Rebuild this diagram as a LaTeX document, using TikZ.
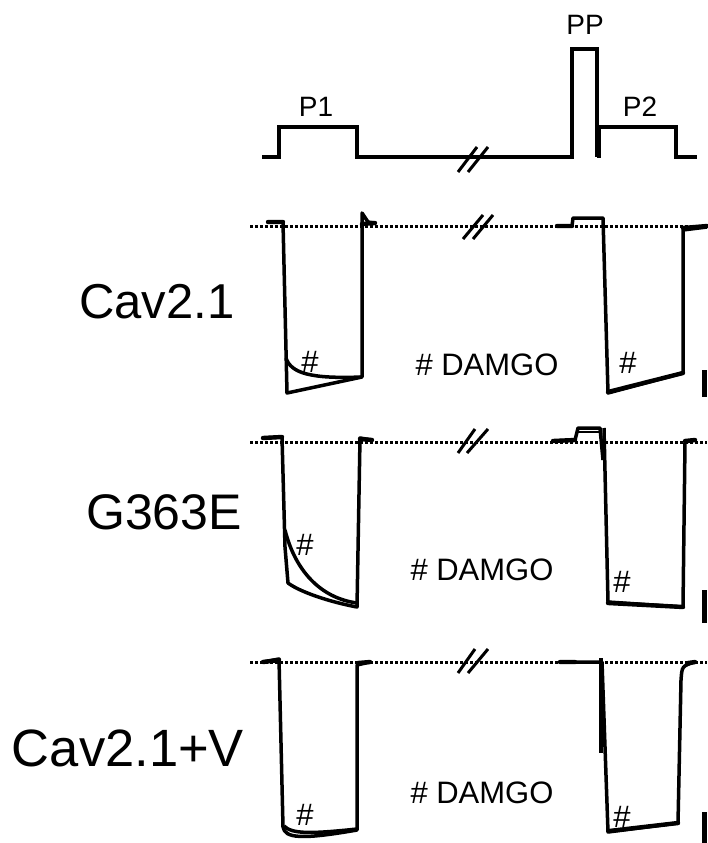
\documentclass[tikz,border=0pt]{standalone}
\usepackage{fontspec}
\setmainfont{Liberation Sans}
\usepackage{tikz}

\begin{document}
\begin{tikzpicture}[x=1pt,y=-1pt,
        trace/.style={line width=3.5pt,line join=round},
        noisy/.style={line width=4.4pt,line cap=round},
        stim/.style={line width=3.2pt},
        zero/.style={line width=3pt,dash pattern=on 2.5pt off 2.5pt},
        brk/.style={line width=3pt},
        sbar/.style={line width=5pt},
        small/.style={font=\fontsize{28}{30}\selectfont},
        hashlbl/.style={font=\fontsize{31}{33}\selectfont},
        big/.style={font=\fontsize{50}{54}\selectfont}]
        \useasboundingbox (0,0) rectangle (708,843);

        % stimulus protocol
        \draw[stim] (262,157) -- (279,157) -- (279,127) -- (357,127) -- (357,157) -- (572,157)
            -- (572,49) -- (597,49) -- (597,157);
        \draw[line width=4.5pt] (599,127) -- (599,158);
        \draw[stim] (599,127) -- (676,127) -- (676,157) -- (697,157);
        \draw[brk] (458,172) -- (477,147) (468,172) -- (488,147);
        \node[small] (p1) at (316,107) {P1};
        \node[small] (pp) at (585,25) {PP};
        \node[small] (p2) at (640,107) {P2};

        % Cav2.1
        \node[big,font=\fontsize{49}{53}\selectfont] (cav) at (157,302) {Cav2.1};
        \draw[zero] (250,226) -- (707,226);
        \draw[trace] (268,222) -- (283,222) -- (287,393) -- (362,377) -- (362,213) -- (368,222) -- (375,223);
        \draw[trace] (286,358) .. controls (291,373) and (310,379) .. (362,377);
        \draw[noisy] (268,222) -- (283,222) (362,224) -- (375,223);
        \draw[trace] (557,226) -- (572,226) -- (573,218) -- (603,218) -- (608,393) -- (683,373)
            -- (683,230) -- (707,227);
        \draw[noisy] (557,226) -- (572,226) (608,392) -- (683,373) (683,228) -- (707,226);
        \draw[brk] (463,239) -- (483,215) (473,239) -- (493,215);
        \draw[sbar] (704,370) -- (704,397);
        \node[hashlbl] (h1a) at (310,362) {\#};
        \node[hashlbl] (h1b) at (628,363) {\#};
        \node[hashlbl] (d1) at (487,365) {\# DAMGO};

        % G363E
        \node[big] (g363) at (164,512) {G363E};
        \draw[zero] (250,442) -- (707,442);
        \draw[trace] (263,438) -- (282,437) -- (285,547) -- (288,583) .. controls (300,592) and (330,602) .. (357,607)
            -- (360,438) -- (372,440);
        \draw[trace] (285,530) .. controls (295,570) and (320,598) .. (357,603);
        \draw[noisy] (263,438) -- (282,437) (360,439) -- (372,440);
        \draw[trace] (553,441) -- (575,440) -- (578,428) -- (600,428) -- (603,460);
        \draw[line width=1.8pt] (578,432) -- (600,432);
        \draw[trace] (604,428) -- (608,602) -- (683,607) -- (685,442) -- (695,440);
        \draw[noisy] (553,441) -- (575,440) (608,603) -- (683,607) (685,441) -- (695,440);
        \draw[brk] (458,453) -- (475,429) (467,453) -- (488,429);
        \draw[sbar] (704,590) -- (704,623);
        \node[hashlbl] (h2a) at (305,545) {\#};
        \node[hashlbl] (h2b) at (622,582) {\#};
        \node[hashlbl] (d2) at (482,570) {\# DAMGO};

        % Cav2.1+V
        \node[big,font=\fontsize{52.5}{56}\selectfont] (cavv) at (128,748) {Cav2.1+V};
        \draw[zero] (250,662) -- (707,662);
        \draw[trace] (263,662) -- (279,659) -- (283,827) .. controls (285,838) and (300,840) .. (357,830)
            -- (357,665) -- (370,662);
        \draw[trace] (284,826) .. controls (292,834) and (310,834) .. (357,829);
        \draw[noisy] (263,662) -- (279,660) (358,663) -- (370,662);
        \draw[trace] (560,662) -- (602,662) -- (608,832) -- (678,823) -- (681,680)
            .. controls (682,666) .. (695,662);
        \draw[noisy] (560,662) -- (575,662) (609,831) -- (678,823) (688,663) -- (695,662);
        \draw[line width=4.5pt] (601,658) -- (601,753);
        \draw[brk] (458,673) -- (475,649) (468,673) -- (488,649);
        \draw[sbar] (704,812) -- (704,843);
        \node[hashlbl] (h3a) at (305,815) {\#};
        \node[hashlbl] (h3b) at (622,817) {\#};
        \node[hashlbl] (d3) at (482,793) {\# DAMGO};
    \end{tikzpicture}
\end{document}
